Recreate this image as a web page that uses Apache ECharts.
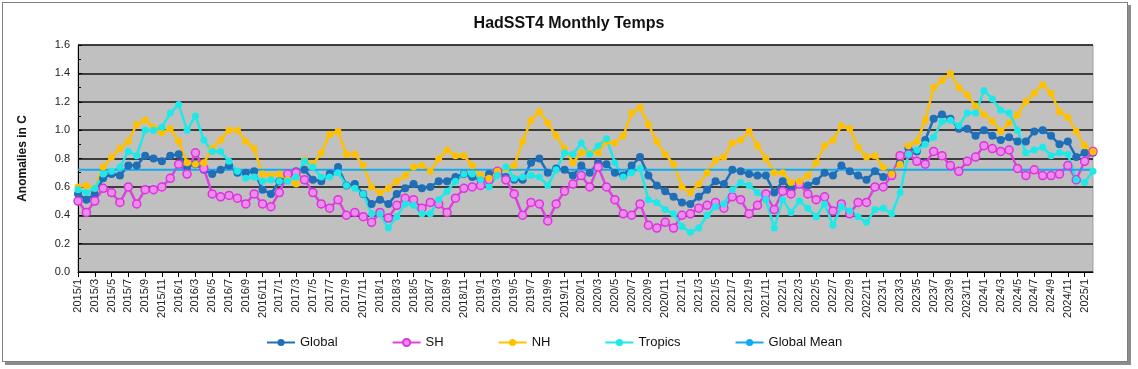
<!DOCTYPE html>
<html>
<head>
<meta charset="utf-8">
<script src="https://cdn.jsdelivr.net/npm/echarts@6/dist/echarts.min.js"></script>
<style>
  html, body { margin: 0; padding: 0; background: #fff; }
  #wrap { position: relative; width: 1138px; height: 369px; overflow: hidden; }
  #frame { position: absolute; left: 2px; top: 2px; width: 1124px; height: 358px;
           border: 1px solid #7f7f7f; box-shadow: 3px 3px 0 #8c8c8c; background: #fff; }
  #chart { position: absolute; left: 0; top: 0; width: 1138px; height: 369px; }
</style>
</head>
<body>
<div id="wrap">
  <div id="frame"></div>
  <div id="chart"></div>
</div>
<script>
// ---- data ----
const startYear = 2015, endYear = 2025, endMonth = 2;
const months = [];
for (let y = startYear; y <= endYear; y++) {
  for (let m = 1; m <= 12; m++) {
    if (y === endYear && m > endMonth) break;
    months.push(y + '/' + m);
  }
}
const yTicks = [0.0, 0.2, 0.4, 0.6, 0.8, 1.0, 1.2, 1.4, 1.6];

const globalVals = [
  0.55,0.51,0.55,0.66,0.69,0.68,0.75,0.75,0.82,0.80,0.78,0.82,0.83,0.74,0.76,0.72,0.69,0.72,0.75,0.70,0.70,
  0.71,0.58,0.55,0.64,0.68,0.71,0.72,0.65,0.64,0.69,0.74,0.61,0.62,0.55,0.48,0.51,0.48,0.55,0.59,0.62,
  0.59,0.60,0.64,0.64,0.67,0.69,0.67,0.65,0.69,0.71,0.67,0.65,0.65,0.77,0.80,0.70,0.73,0.72,0.68,0.75,
  0.70,0.77,0.76,0.70,0.68,0.75,0.81,0.68,0.61,0.57,0.53,0.49,0.48,0.53,0.58,0.64,0.62,0.72,0.71,0.69,0.68,
  0.68,0.56,0.64,0.59,0.62,0.61,0.64,0.70,0.68,0.75,0.71,0.68,0.65,0.71,0.67,0.69,0.77,0.87,0.85,0.93,
  1.08,1.11,1.08,1.01,1.01,0.96,1.00,0.96,0.93,0.95,0.92,0.92,0.99,1.00,0.96,0.90,0.92,0.81,0.84,0.84
];
const shVals = [
  0.50,0.42,0.50,0.59,0.56,0.49,0.60,0.48,0.58,0.58,0.60,0.66,0.76,0.69,0.84,0.73,0.55,0.53,0.54,0.52,0.48,
  0.55,0.48,0.46,0.56,0.69,0.70,0.65,0.56,0.48,0.45,0.51,0.40,0.42,0.39,0.35,0.42,0.38,0.47,0.52,0.51,
  0.45,0.49,0.48,0.42,0.52,0.59,0.60,0.61,0.65,0.71,0.65,0.55,0.40,0.49,0.48,0.36,0.48,0.57,0.62,0.68,
  0.60,0.74,0.60,0.51,0.41,0.40,0.48,0.33,0.31,0.35,0.31,0.40,0.41,0.45,0.47,0.49,0.45,0.53,0.51,0.41,0.47,
  0.55,0.44,0.57,0.55,0.62,0.55,0.51,0.53,0.43,0.48,0.41,0.49,0.49,0.60,0.60,0.68,0.82,0.83,0.78,0.76,
  0.85,0.82,0.75,0.71,0.78,0.81,0.89,0.87,0.85,0.86,0.73,0.68,0.72,0.68,0.68,0.69,0.75,0.65,0.78,0.85
];
const nhVals = [
  0.60,0.61,0.59,0.74,0.81,0.87,0.92,1.04,1.07,1.02,0.98,1.01,0.92,0.77,0.76,0.77,0.87,0.93,1.00,1.00,0.92,
  0.87,0.69,0.68,0.69,0.65,0.62,0.79,0.76,0.84,0.97,0.99,0.83,0.83,0.75,0.60,0.56,0.59,0.64,0.68,0.74,
  0.75,0.71,0.80,0.86,0.82,0.82,0.75,0.68,0.66,0.71,0.73,0.75,0.92,1.07,1.13,1.05,0.96,0.87,0.77,0.84,
  0.84,0.84,0.92,0.91,0.96,1.12,1.16,1.04,0.92,0.83,0.76,0.60,0.56,0.62,0.70,0.79,0.81,0.91,0.93,0.99,0.89,
  0.80,0.70,0.70,0.63,0.64,0.68,0.77,0.89,0.93,1.03,1.01,0.88,0.81,0.82,0.74,0.69,0.76,0.89,0.92,1.07,
  1.30,1.35,1.40,1.30,1.25,1.17,1.11,1.06,0.99,1.05,1.11,1.20,1.26,1.32,1.26,1.13,1.09,0.99,0.89,0.85
];
const tropicsVals = [
  0.58,0.56,0.59,0.69,0.71,0.74,0.85,0.82,1.00,1.00,1.02,1.12,1.18,1.00,1.10,0.93,0.85,0.85,0.78,0.71,0.66,
  0.67,0.64,0.65,0.64,0.64,0.67,0.78,0.74,0.67,0.67,0.70,0.61,0.59,0.55,0.41,0.41,0.31,0.39,0.48,0.47,
  0.41,0.41,0.51,0.57,0.64,0.69,0.69,0.65,0.60,0.68,0.74,0.66,0.67,0.68,0.67,0.61,0.72,0.84,0.83,0.91,
  0.83,0.89,0.94,0.77,0.67,0.70,0.73,0.51,0.49,0.44,0.41,0.32,0.28,0.31,0.40,0.46,0.48,0.58,0.63,0.61,0.56,
  0.51,0.31,0.51,0.42,0.50,0.45,0.39,0.48,0.33,0.46,0.43,0.39,0.35,0.44,0.45,0.41,0.56,0.83,0.86,0.90,
  0.95,1.06,1.07,1.03,1.12,1.12,1.28,1.22,1.14,1.12,1.00,0.84,0.86,0.88,0.82,0.84,0.83,0.65,0.63,0.71
];
const globalMean = 0.72;

// ---- chart ----
const chart = echarts.init(document.getElementById('chart'), null, { renderer: 'canvas' });
const FONT = 'Arial, "Liberation Sans", sans-serif';

function lineSeries(name, data, color, size, fill, border) {
  return {
    name: name, type: 'line', data: data,
    symbol: 'circle', symbolSize: size, showSymbol: true, showAllSymbol: true,
    lineStyle: { color: color, width: 2.5 },
    itemStyle: { color: fill || color, borderColor: border || color, borderWidth: border ? 1.5 : 0 },
    emphasis: { disabled: true },
    animation: false
  };
}

chart.setOption({
  animation: false,
  textStyle: { fontFamily: FONT },
  title: {
    text: 'HadSST4 Monthly Temps',
    left: 'center', top: 11,
    textStyle: { fontFamily: FONT, fontSize: 16, fontWeight: 'bold', color: '#111' }
  },
  legend: {
    left: 261, top: 331,
    itemWidth: 28, itemHeight: 9, itemGap: 54,
    textStyle: { fontFamily: FONT, fontSize: 13, color: '#111' },
    data: ['Global', 'SH', 'NH', 'Tropics', 'Global Mean']
  },
  grid: {
    left: 78, top: 45, width: 1015, height: 227,
    show: true, backgroundColor: '#c0c0c0', borderColor: '#a0a0a0', borderWidth: 1
  },
  xAxis: {
    type: 'category', data: months, boundaryGap: false,
    axisLine: { lineStyle: { color: '#000', width: 1 } },
    axisTick: { show: true, interval: 1, length: 5, lineStyle: { color: '#000' } },
    axisLabel: { interval: 1, rotate: 90, fontSize: 11, color: '#222', margin: 7, fontFamily: FONT },
    splitLine: { show: false }
  },
  yAxis: {
    type: 'value', min: yTicks[0], max: yTicks[yTicks.length - 1], interval: 0.2,
    name: 'Anomalies in C', nameLocation: 'middle', nameGap: 49,
    nameTextStyle: { fontFamily: FONT, fontSize: 12, fontWeight: 'bold', color: '#111' },
    axisLine: { show: true, lineStyle: { color: '#000', width: 1 } },
    axisTick: { show: true, inside: true, length: 4, lineStyle: { color: '#000' } },
    minorTick: { show: true, splitNumber: 2, length: 3, lineStyle: { color: '#000' } },
    axisLabel: { fontSize: 11, color: '#222', margin: 8, fontFamily: FONT,
                 formatter: v => v.toFixed(1) },
    splitLine: { show: true, lineStyle: { color: '#111', width: 1.5 } }
  },
  series: [
    lineSeries('Global', globalVals, '#1f6fb8', 8),
    lineSeries('SH', shVals, '#e03fe3', 8, '#ee8cee', '#dd33dd'),
    lineSeries('NH', nhVals, '#ffc000', 7),
    lineSeries('Tropics', tropicsVals, '#1ee8e8', 7),
    {
      name: 'Global Mean', type: 'line', symbol: 'none',
      data: [[months[0], globalMean], [months[months.length - 1], globalMean]],
      lineStyle: { color: '#10aaee', width: 2 },
      itemStyle: { color: '#10aaee' },
      emphasis: { disabled: true }
    }
  ]
});
</script>
</body>
</html>
